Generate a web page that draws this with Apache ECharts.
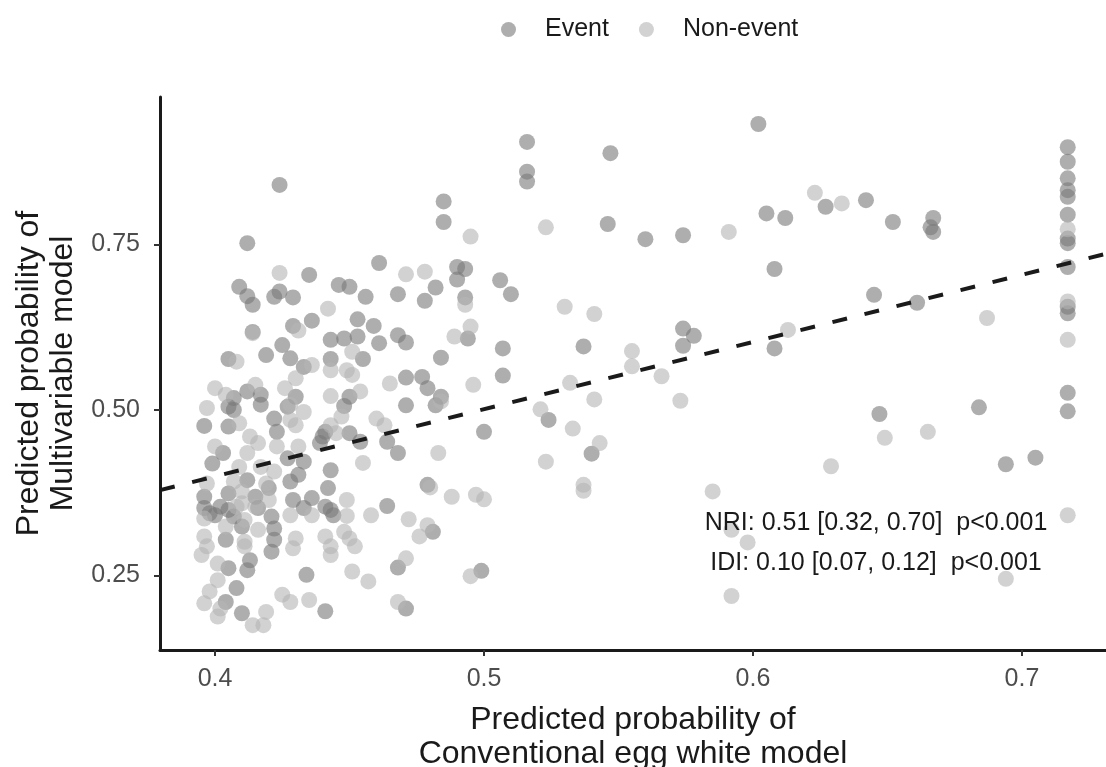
<!DOCTYPE html>
<html>
<head>
<meta charset="utf-8">
<title>NRI / IDI scatter</title>
<script src="https://cdn.jsdelivr.net/npm/echarts/dist/echarts.min.js"></script>
<style>
  html, body { margin: 0; padding: 0; background: #fff; }
  #chart { width: 1106px; height: 767px; }
</style>
</head>
<body>
<div id="chart"></div>
<script>
// legend / series names
const groups = ["Event", "Non-event"];

// [conventional model prob, multivariable model prob]
const eventPoints = [
  [0.424, 0.840], [0.412, 0.752], [0.435, 0.704], [0.409, 0.686], [0.412, 0.672],
  [0.414, 0.659], [0.422, 0.671], [0.424, 0.679], [0.429, 0.670], [0.446, 0.689],
  [0.414, 0.618], [0.429, 0.627], [0.436, 0.635], [0.425, 0.598], [0.419, 0.583],
  [0.405, 0.577], [0.428, 0.578], [0.433, 0.565], [0.443, 0.606], [0.443, 0.577],
  [0.407, 0.518], [0.412, 0.528], [0.417, 0.523], [0.430, 0.520], [0.405, 0.505],
  [0.417, 0.508], [0.427, 0.505], [0.396, 0.476], [0.407, 0.500], [0.405, 0.475],
  [0.422, 0.487], [0.423, 0.467], [0.403, 0.435], [0.399, 0.419], [0.440, 0.460],
  [0.441, 0.467], [0.427, 0.427], [0.433, 0.422], [0.443, 0.409], [0.431, 0.402],
  [0.412, 0.394], [0.428, 0.392], [0.420, 0.382], [0.396, 0.369], [0.405, 0.374],
  [0.415, 0.369], [0.442, 0.382], [0.396, 0.352], [0.402, 0.354], [0.405, 0.349],
  [0.416, 0.352], [0.429, 0.364], [0.433, 0.352], [0.436, 0.367], [0.441, 0.354],
  [0.444, 0.341], [0.400, 0.341], [0.407, 0.339], [0.421, 0.339], [0.410, 0.324],
  [0.422, 0.321], [0.404, 0.304], [0.422, 0.304], [0.421, 0.286], [0.405, 0.261],
  [0.413, 0.273], [0.412, 0.258], [0.434, 0.251], [0.408, 0.231], [0.404, 0.210],
  [0.441, 0.196], [0.410, 0.193], [0.398, 0.344], [0.439, 0.450], [0.443, 0.349],
  [0.485, 0.815], [0.485, 0.784], [0.461, 0.722], [0.490, 0.716], [0.493, 0.713],
  [0.490, 0.697], [0.506, 0.696], [0.510, 0.675], [0.450, 0.686], [0.456, 0.671],
  [0.468, 0.675], [0.482, 0.685], [0.478, 0.665], [0.493, 0.670], [0.453, 0.637],
  [0.459, 0.627], [0.494, 0.608], [0.468, 0.613], [0.471, 0.602], [0.461, 0.601],
  [0.448, 0.608], [0.453, 0.611], [0.455, 0.577], [0.484, 0.579], [0.507, 0.593],
  [0.471, 0.549], [0.477, 0.550], [0.479, 0.533], [0.507, 0.552], [0.450, 0.520],
  [0.471, 0.507], [0.484, 0.520], [0.482, 0.507], [0.448, 0.506], [0.450, 0.465],
  [0.454, 0.452], [0.464, 0.452], [0.468, 0.435], [0.500, 0.467], [0.479, 0.387],
  [0.464, 0.355], [0.481, 0.316], [0.468, 0.262], [0.499, 0.257], [0.471, 0.200],
  [0.516, 0.905], [0.516, 0.860], [0.516, 0.845], [0.547, 0.888], [0.602, 0.932],
  [0.546, 0.781], [0.560, 0.758], [0.574, 0.764], [0.605, 0.797], [0.612, 0.790],
  [0.608, 0.713], [0.537, 0.596], [0.574, 0.623], [0.578, 0.612], [0.574, 0.597],
  [0.608, 0.593], [0.524, 0.485], [0.540, 0.434], [0.627, 0.807], [0.642, 0.817],
  [0.652, 0.784], [0.667, 0.790], [0.666, 0.776], [0.667, 0.769], [0.645, 0.674],
  [0.661, 0.662], [0.647, 0.494], [0.684, 0.504], [0.694, 0.418], [0.705, 0.428],
  [0.717, 0.897], [0.717, 0.875], [0.717, 0.850], [0.717, 0.832], [0.717, 0.822],
  [0.717, 0.795], [0.717, 0.759], [0.717, 0.752], [0.717, 0.716], [0.717, 0.656],
  [0.717, 0.646], [0.717, 0.526], [0.717, 0.498]
];

const nonEventPoints = [
  [0.424, 0.707], [0.442, 0.653], [0.431, 0.620], [0.408, 0.573], [0.436, 0.568],
  [0.443, 0.560], [0.430, 0.548], [0.400, 0.533], [0.404, 0.523], [0.415, 0.538],
  [0.426, 0.533], [0.443, 0.521], [0.397, 0.503], [0.414, 0.616], [0.409, 0.480],
  [0.428, 0.508], [0.430, 0.477], [0.433, 0.497], [0.443, 0.477], [0.413, 0.460],
  [0.400, 0.445], [0.412, 0.435], [0.416, 0.450], [0.423, 0.445], [0.431, 0.445],
  [0.409, 0.414], [0.417, 0.414], [0.422, 0.407], [0.397, 0.389], [0.407, 0.392],
  [0.410, 0.377], [0.410, 0.359], [0.420, 0.364], [0.396, 0.336], [0.411, 0.334],
  [0.428, 0.341], [0.436, 0.341], [0.404, 0.324], [0.416, 0.319], [0.396, 0.309],
  [0.430, 0.306], [0.441, 0.309], [0.443, 0.294], [0.397, 0.294], [0.411, 0.294],
  [0.429, 0.291], [0.395, 0.281], [0.401, 0.268], [0.401, 0.243], [0.398, 0.226],
  [0.396, 0.208], [0.402, 0.200], [0.425, 0.221], [0.428, 0.210], [0.435, 0.213],
  [0.401, 0.188], [0.419, 0.195], [0.414, 0.175], [0.418, 0.175], [0.428, 0.485],
  [0.445, 0.465], [0.408, 0.354], [0.415, 0.354], [0.419, 0.389], [0.411, 0.301],
  [0.495, 0.762], [0.471, 0.705], [0.478, 0.709], [0.493, 0.659], [0.495, 0.626],
  [0.489, 0.611], [0.451, 0.588], [0.449, 0.560], [0.451, 0.553], [0.465, 0.540],
  [0.496, 0.538], [0.454, 0.528], [0.484, 0.513], [0.447, 0.490], [0.460, 0.487],
  [0.463, 0.477], [0.483, 0.435], [0.455, 0.420], [0.480, 0.383], [0.488, 0.369],
  [0.497, 0.372], [0.500, 0.365], [0.449, 0.364], [0.449, 0.340], [0.458, 0.341],
  [0.472, 0.335], [0.479, 0.326], [0.476, 0.309], [0.448, 0.316], [0.450, 0.306],
  [0.452, 0.294], [0.443, 0.281], [0.471, 0.276], [0.451, 0.256], [0.457, 0.241],
  [0.495, 0.249], [0.468, 0.210], [0.523, 0.776], [0.591, 0.769], [0.530, 0.656],
  [0.541, 0.645], [0.555, 0.589], [0.555, 0.566], [0.613, 0.621], [0.532, 0.541],
  [0.566, 0.551], [0.541, 0.516], [0.573, 0.514], [0.521, 0.501], [0.533, 0.472],
  [0.543, 0.450], [0.523, 0.422], [0.537, 0.387], [0.537, 0.378], [0.585, 0.377],
  [0.592, 0.319], [0.598, 0.300], [0.592, 0.219], [0.623, 0.828], [0.633, 0.812],
  [0.687, 0.639], [0.649, 0.458], [0.665, 0.467], [0.629, 0.415], [0.694, 0.245],
  [0.717, 0.773], [0.717, 0.664], [0.717, 0.606], [0.717, 0.341]
];

// dashed reference line, end points
const fitX = [0.3796, 0.7312];
const fitY = [0.379, 0.736];

// axis ticks
const xTicks = [0.4, 0.5, 0.6, 0.7];
const yTicks = [0.25, 0.5, 0.75];

// annotation lines
const statLines = [
  "NRI: 0.51 [0.32, 0.70]  p<0.001",
  "IDI: 0.10 [0.07, 0.12]  p<0.001"
];

const FONT = "'Liberation Sans', Arial, sans-serif";

const chart = echarts.init(document.getElementById("chart"));

const option = {
  animation: false,
  backgroundColor: "#fff",
  textStyle: { fontFamily: FONT },
  legend: {
    data: groups,
    left: 496,
    top: 12,
    icon: "circle",
    itemWidth: 15,
    itemHeight: 15,
    itemGap: 30,
    textStyle: {
      fontFamily: FONT,
      fontSize: 25,
      color: "#1a1a1a",
      padding: [0, 0, 0, 24]
    }
  },
  grid: { left: 160, right: 0, top: 97, bottom: 117, outerBoundsMode: "none", containLabel: false },
  xAxis: {
    type: "value",
    min: 0.37955,
    max: 0.73123,
    name: "Predicted probability of\nConventional egg white model",
    nameLocation: "middle",
    nameGap: 53,
    nameTextStyle: { fontFamily: FONT, fontSize: 32, lineHeight: 34, color: "#1a1a1a" },
    splitLine: { show: false },
    axisLine: { show: true, onZero: false, lineStyle: { color: "#1a1a1a", width: 3 } },
    axisTick: {
      show: true, length: 6, customValues: xTicks,
      lineStyle: { color: "#333", width: 2 }
    },
    axisLabel: {
      customValues: xTicks,
      margin: 17,
      fontSize: 25,
      color: "#4d4d4d",
      fontFamily: FONT,
      formatter: (v) => v.toFixed(1)
    }
  },
  yAxis: {
    type: "value",
    min: 0.13746,
    max: 0.9728,
    name: "Predicted probability of\nMultivariable model",
    nameLocation: "middle",
    nameGap: 76,
    nameTextStyle: { fontFamily: FONT, fontSize: 32, lineHeight: 34, color: "#1a1a1a" },
    splitLine: { show: false },
    axisLine: { show: true, onZero: false, lineStyle: { color: "#1a1a1a", width: 3 } },
    axisTick: {
      show: true, length: 6, customValues: yTicks,
      lineStyle: { color: "#333", width: 2 }
    },
    axisLabel: {
      customValues: yTicks,
      margin: 20,
      fontSize: 25,
      color: "#4d4d4d",
      fontFamily: FONT,
      formatter: (v) => v.toFixed(2)
    }
  },
  series: [
    {
      name: groups[0],
      type: "scatter",
      data: eventPoints,
      symbolSize: 16,
      itemStyle: { color: "rgba(120,120,120,0.75)" }
    },
    {
      name: groups[1],
      type: "scatter",
      data: nonEventPoints,
      symbolSize: 16,
      itemStyle: { color: "rgba(180,180,180,0.75)" }
    },
    {
      name: "fit",
      type: "line",
      data: fitX.map((x, i) => [x, fitY[i]]),
      symbol: "none",
      z: 5,
      lineStyle: { color: "#1a1a1a", width: 4, type: [15, 18] }
    }
  ],
  graphic: statLines.map((t, i) => ({
    type: "text",
    x: 876,
    y: 523 + i * 40,
    z: 100,
    style: {
      text: t,
      align: "center",
      verticalAlign: "middle",
      fontFamily: FONT,
      fontSize: 25,
      fill: "#1a1a1a"
    }
  }))
};

chart.setOption(option);
</script>
</body>
</html>
